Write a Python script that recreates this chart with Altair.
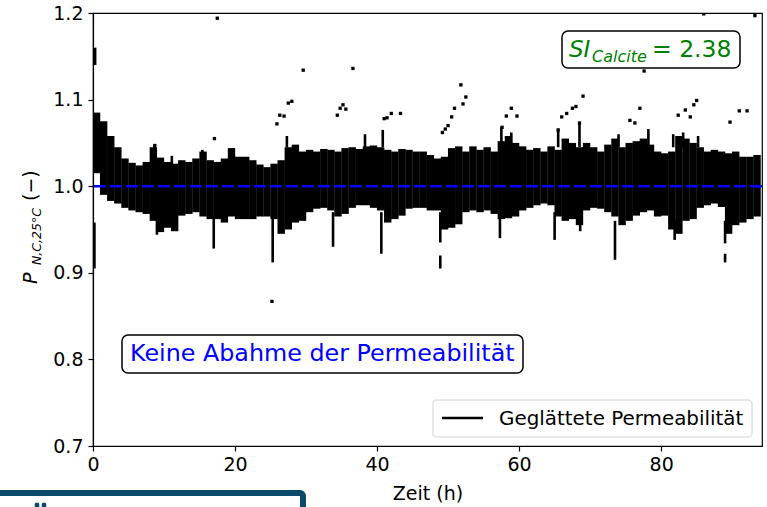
import altair as alt
import pandas as pd

FONT = "DejaVu Sans"
SERIES = "Geglättete Permeabilität"

# --- data -------------------------------------------------------------
hours = list(range(94))
band_hi = [1.085, 1.075, 1.058, 1.045, 1.032, 1.027, 1.024, 1.028, 1.045, 1.033,
           1.028, 1.026, 1.030, 1.028, 1.032, 1.040, 1.030, 1.028, 1.032, 1.044,
           1.034, 1.034, 1.030, 1.025, 1.022, 1.026, 1.030, 1.045, 1.048, 1.040,
           1.042, 1.040, 1.043, 1.042, 1.040, 1.044, 1.045, 1.043, 1.046, 1.047,
           1.045, 1.042, 1.040, 1.043, 1.042, 1.040, 1.040, 1.036, 1.032, 1.034,
           1.044, 1.046, 1.040, 1.046, 1.042, 1.045, 1.040, 1.052, 1.058, 1.050,
           1.046, 1.042, 1.044, 1.040, 1.046, 1.042, 1.055, 1.050, 1.045, 1.050,
           1.045, 1.040, 1.048, 1.055, 1.045, 1.050, 1.052, 1.055, 1.048, 1.040,
           1.038, 1.040, 1.058, 1.055, 1.050, 1.045, 1.040, 1.042, 1.040, 1.038,
           1.040, 1.034, 1.034, 1.036]
band_lo = [1.015, 0.990, 0.983, 0.980, 0.975, 0.972, 0.970, 0.968, 0.960, 0.947,
           0.952, 0.948, 0.966, 0.968, 0.970, 0.965, 0.962, 0.962, 0.958, 0.965,
           0.962, 0.962, 0.962, 0.965, 0.965, 0.962, 0.945, 0.950, 0.958, 0.960,
           0.970, 0.974, 0.975, 0.972, 0.965, 0.968, 0.975, 0.978, 0.978, 0.975,
           0.972, 0.958, 0.962, 0.966, 0.974, 0.975, 0.975, 0.972, 0.972, 0.950,
           0.952, 0.956, 0.970, 0.972, 0.970, 0.972, 0.968, 0.962, 0.963, 0.965,
           0.972, 0.975, 0.978, 0.980, 0.978, 0.965, 0.960, 0.962, 0.955, 0.972,
           0.975, 0.974, 0.970, 0.965, 0.955, 0.960, 0.966, 0.970, 0.972, 0.965,
           0.966, 0.950, 0.945, 0.960, 0.962, 0.975, 0.978, 0.980, 0.976, 0.945,
           0.955, 0.958, 0.962, 0.965]

spike_t = [0.2, 0.3, 9.0, 17.0, 25.3, 33.8, 40.6, 48.9, 48.9, 57.3, 65.0, 68.6,
           73.5, 81.9, 89.0, 89.0,
           27.3, 38.3, 40.8, 57.5, 58.9, 65.5, 68.5, 74.0, 78.2, 81.7, 83.1, 85.2,
           8.7, 11.1, 15.4, 19.7]
spike_lo = [0.905, 1.140, 0.944, 0.928, 0.912, 0.930, 0.922, 0.935, 0.905, 0.940, 0.938, 0.948,
            0.915, 0.938, 0.934, 0.912,
            1.045, 1.045, 1.045, 1.045, 1.045, 1.045, 1.045, 1.045, 1.045, 1.045, 1.045, 1.045,
            1.020, 1.020, 1.020, 1.020]
spike_hi = [0.958, 1.160, 0.965, 0.965, 0.965, 0.970, 0.970, 0.970, 0.920, 0.965, 0.970, 0.970,
            0.960, 0.960, 0.960, 0.922,
            1.058, 1.060, 1.065, 1.068, 1.062, 1.065, 1.073, 1.060, 1.066, 1.060, 1.062, 1.058,
            1.047, 1.035, 1.042, 1.044]

dot_t = [8.7, 17.1, 17.5, 25.9, 26.3, 26.9, 27.5, 28.0, 29.6, 36.6,
         34.4, 34.8, 35.2, 35.6, 41.0, 41.4, 42.0, 43.3,
         49.2, 49.6, 50.0, 50.5, 50.9, 52.1, 52.5, 51.8,
         57.6, 58.2, 58.9, 59.7,
         65.5, 66.0, 66.7, 67.5, 68.0, 69.0, 68.5,
         75.6, 76.3, 77.0, 77.6,
         82.4, 83.4, 84.1, 85.0, 84.6,
         89.7, 91.0, 92.1, 86.0, 93.2, 25.2]
dot_v = [1.047, 1.055, 1.194, 1.072, 1.082, 1.081, 1.096, 1.098, 1.134, 1.136,
         1.082, 1.090, 1.094, 1.089, 1.078, 1.079, 1.084, 1.084,
         1.062, 1.066, 1.070, 1.080, 1.090, 1.095, 1.103, 1.117,
         1.068, 1.081, 1.090, 1.081,
         1.065, 1.080, 1.084, 1.090, 1.092, 1.104, 1.073,
         1.076, 1.073, 1.090, 1.133,
         1.082, 1.088, 1.080, 1.099, 1.094,
         1.074, 1.087, 1.087, 1.199, 1.197, 0.867]

ref_level = [1.0]
x_ticks = [0, 20, 40, 60, 80]
y_ticks = [0.7, 0.8, 0.9, 1.0, 1.1, 1.2]

# --- tables ------------------------------------------------------------
band = pd.DataFrame({"t": [h + 0.5 for h in hours], "lo": band_lo, "hi": band_hi, "w": 7.4})
spk = pd.DataFrame({"t": spike_t, "lo": spike_lo, "hi": spike_hi, "w": 2.6})
rules = pd.concat([band, spk], ignore_index=True)
dots = pd.DataFrame({"t": dot_t, "v": dot_v})
ref = pd.DataFrame({"v": ref_level})
one = pd.DataFrame({"a": [0]})

L, T = 93, 13  # plot origin in page pixels

xs = alt.Scale(domain=[0, 94.2], nice=False, zero=False)
ys = alt.Scale(domain=[0.7, 1.2], nice=False, zero=False)

xax = alt.Axis(values=x_ticks, format="d", title="Zeit (h)", grid=False, labelFlush=False,
               labelFontSize=19, titleFontSize=19, titleFontWeight="normal",
               tickSize=5, labelPadding=4, titlePadding=10)
yax = alt.Axis(values=y_ticks, format=".1f", title=None, grid=False, labelFlush=False,
               labelFontSize=19, tickSize=5, labelPadding=5)

band_layer = alt.Chart(rules).mark_rule(clip=True, color="black").encode(
    x=alt.X("t:Q", scale=xs, axis=xax),
    y=alt.Y("lo:Q", scale=ys, axis=yax),
    y2="hi:Q",
    strokeWidth=alt.StrokeWidth("w:Q", scale=None, legend=None),
)

dot_layer = alt.Chart(dots).mark_square(size=11, color="black", opacity=1, clip=True).encode(
    x=alt.X("t:Q", scale=xs), y=alt.Y("v:Q", scale=ys))

ref_layer = alt.Chart(ref).mark_rule(color="#0000ff", strokeWidth=2.5,
                                     strokeDash=[12, 4]).encode(
    y=alt.Y("v:Q", scale=ys))


def box(x1, y1, x2, y2, stroke="black", sw=1.5, r=6, fill="white"):
    return alt.Chart(one).mark_rect(fill=fill, stroke=stroke, strokeWidth=sw,
                                    cornerRadius=r).encode(
        x=alt.value(x1 - L), x2=alt.value(x2 - L),
        y=alt.value(y1 - T), y2=alt.value(y2 - T))


def txt(text, x, y, size, color="black", style="normal", angle=0):
    return alt.Chart(one).mark_text(text=text, font=FONT, fontSize=size, color=color,
                                    fontStyle=style, angle=angle, align="left",
                                    baseline="alphabetic").encode(
        x=alt.value(x - L), y=alt.value(y - T))


def hline(x1, x2, y, color="black", sw=2.5):
    return alt.Chart(one).mark_rule(color=color, strokeWidth=sw).encode(
        x=alt.value(x1 - L), x2=alt.value(x2 - L), y=alt.value(y - T))


annot = [
    box(562, 31, 740, 68),
    txt("SI", 569, 57, 23, "#008000", "italic"),
    txt("Calcite", 592, 62, 16, "#008000", "italic"),
    txt("= 2.38", 652, 57, 23.5, "#008000"),
    box(122, 335, 523, 373),
    txt("Keine Abahme der Permeabilität", 130, 361, 23.8, "#0000ff"),
    # legend
    box(433, 400, 752, 437, stroke="#d0d0d0", sw=1, r=3),
    hline(442, 483, 418),
    txt(SERIES, 499, 425, 19.9),
    # y-axis title P_{N,C,25°C} (−)
    txt("P", 37, 284, 19, "black", "italic", 270),
    txt("N,C,25°C", 41, 265, 12.5, "black", "italic", 270),
    txt("(−)", 37, 201, 19, "black", "normal", 270),
    # cut-off box at the bottom left
    box(-5, 493, 303, 540, stroke="#0b4a6b", sw=6, r=3),
    box(35, 503, 39, 508, stroke="#0b4a6b", sw=0.5, r=1, fill="#0b4a6b"),
    box(42, 503, 46, 508, stroke="#0b4a6b", sw=0.5, r=1, fill="#0b4a6b"),
]

chart = alt.layer(band_layer, dot_layer, ref_layer, *annot).properties(
    width=669, height=433,
    autosize=alt.AutoSizeParams(type="none"),
    padding={"left": L, "top": T, "right": 5, "bottom": 61},
    background="white",
).configure_view(stroke="black", strokeWidth=1.2).configure_axis(
    domainColor="black", tickColor="black", labelColor="black", titleColor="black",
    labelFont=FONT, titleFont=FONT, domainWidth=1.2, tickWidth=1.2,
)

chart.save("out.html", embed_options={"renderer": "svg", "actions": False})
